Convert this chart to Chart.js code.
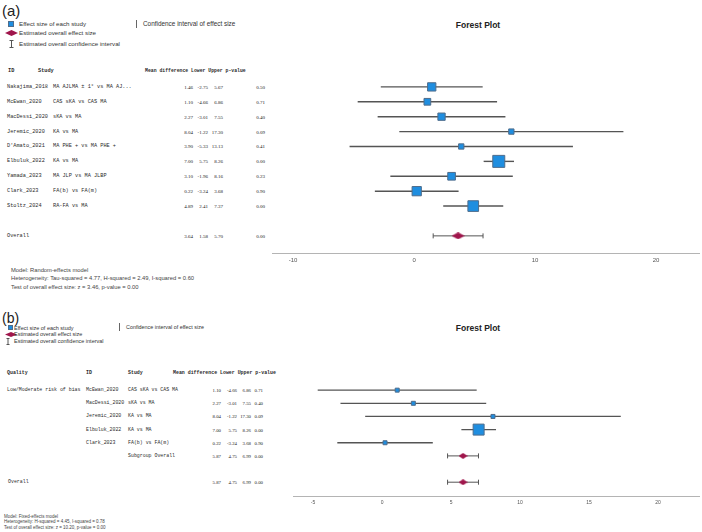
<!DOCTYPE html>
<html>
<head>
<meta charset="utf-8">
<title>Forest Plot</title>
<script src="https://cdn.jsdelivr.net/npm/chart.js@4.4.1/dist/chart.umd.min.js"></script>
<style>
  html, body { margin: 0; padding: 0; background: #fff; }
  #page { position: relative; width: 702px; height: 532px; overflow: hidden;
          font-family: "Liberation Sans", Arial, sans-serif; color: #333; }
  .t { position: absolute; white-space: pre; line-height: 1; transform-origin: 0 0; }
  .mono { font-family: "Liberation Mono", "DejaVu Sans Mono", monospace; color: #2a2a2a; }
  .num { font-family: "Liberation Serif", "Times New Roman", serif; color: #222; }
  .abs { position: absolute; }
  .sq { position: absolute; box-sizing: border-box; background: #1f8ee0; border: 1px solid #4f6d8c; }
  .vbar { position: absolute; width: 1px; background: #666; }
  .wrap { position: absolute; }
</style>
</head>
<body>
<div id="page">
  <div class="wrap" id="wrapA" style="left:272px;top:72px;width:428px;height:197px;"><canvas id="chartA"></canvas></div>
  <div class="wrap" id="wrapB" style="left:293px;top:377px;width:407px;height:133px;"><canvas id="chartB"></canvas></div>
</div>
<script>
  // ---- Data: panel (a), random-effects model ----
  const studiesA = ["Nakajima_2018", "McEwan_2020", "MacDessi_2020", "Jeremic_2020", "D'Amato_2021",
                    "Elbuluk_2022", "Yamada_2023", "Clark_2023", "Stoltz_2024"];
  const comparisonsA = ["MA AJLMA \u00b1 1\u00b0 vs MA AJ...", "CAS sKA vs CAS MA", "sKA vs MA", "KA vs MA",
                        "MA PHE + vs MA PHE +", "KA vs MA", "MA JLP vs MA JLBP", "FA(b) vs FA(m)", "RA-FA vs MA"];
  const meanA  = [1.46, 1.10, 2.27, 8.04, 3.90, 7.00, 3.10, 0.22, 4.89];
  const lowerA = [-2.75, -4.66, -3.01, -1.22, -5.33, 5.75, -1.96, -3.24, 2.41];
  const upperA = [5.67, 6.86, 7.55, 17.30, 13.13, 8.26, 8.16, 3.68, 7.37];
  const pA     = [0.50, 0.71, 0.40, 0.09, 0.41, 0.00, 0.23, 0.90, 0.00];
  const weightA = [11.0, 7.2, 8.5, 4.5, 4.5, 23.0, 9.4, 13.7, 18.2];
  const overallA = [3.64, 1.58, 5.70, 0.00]; // mean, lower, upper, p
  const xTicksA = [-10, 0, 10, 20];

  // ---- Data: panel (b), fixed-effects model, subgroup by quality ----
  const qualityB = "Low/Moderate risk of bias";
  const studiesB = ["McEwan_2020", "MacDessi_2020", "Jeremic_2020", "Elbuluk_2022", "Clark_2023"];
  const comparisonsB = ["CAS sKA vs CAS MA", "sKA vs MA", "KA vs MA", "KA vs MA", "FA(b) vs FA(m)"];
  const meanB  = [1.10, 2.27, 8.04, 7.00, 0.22];
  const lowerB = [-4.66, -3.01, -1.22, 5.75, -3.24];
  const upperB = [6.86, 7.55, 17.30, 8.26, 3.68];
  const pB     = [0.71, 0.40, 0.09, 0.00, 0.90];
  const weightB = [3.8, 4.5, 1.5, 79.7, 10.5];
  const subgroupB = [5.87, 4.75, 6.99, 0.00];
  const overallB = [5.87, 4.75, 6.99, 0.00];
  const xTicksB = [-5, 0, 5, 10, 15, 20];

  const BLUE = "#1f8ee0", BLUE_EDGE = "#4f6d8c", CRIMSON = "#a0164c", LINE = "#555";
  const page = document.getElementById("page");
  const K = 0.25; // tiny text is laid out 4x larger then scaled down, so glyph advances are not rounded

  // anchor: left-middle by default, "r" right-middle, "c" centre
  function put(text, x, y, size, opts) {
    opts = opts || {};
    const d = document.createElement("div");
    d.className = "t" + (opts.cls ? " " + opts.cls : "");
    d.style.left = x + "px";
    d.style.top = y + "px";
    d.style.fontSize = size / K + "px";
    const tx = opts.anchor === "r" ? "-100%" : opts.anchor === "c" ? "-50%" : "0";
    d.style.transform = `scale(${K}) translate(${tx}, -50%)`;
    if (opts.bold) d.style.fontWeight = "bold";
    if (opts.color) d.style.color = opts.color;
    d.textContent = text;
    page.appendChild(d);
    return d;
  }

  function box(cls, x, y, w, h) {
    const d = document.createElement("div");
    d.className = cls;
    Object.assign(d.style, { left: x + "px", top: y + "px", width: w ? w + "px" : "", height: h + "px" });
    page.appendChild(d);
  }

  function diamondCanvas(w, h) {
    const c = document.createElement("canvas");
    c.width = w; c.height = h;
    const g = c.getContext("2d");
    g.fillStyle = CRIMSON;
    g.beginPath();
    g.moveTo(0, h / 2); g.lineTo(w / 2, 0); g.lineTo(w, h / 2); g.lineTo(w / 2, h);
    g.closePath(); g.fill();
    return c;
  }

  function legendSvg(kind, x, y, w, h) {
    const ns = "http://www.w3.org/2000/svg";
    const s = document.createElementNS(ns, "svg");
    s.setAttribute("width", w); s.setAttribute("height", h);
    s.setAttribute("class", "abs");
    s.style.left = x + "px"; s.style.top = y + "px";
    if (kind === "diamond") {
      s.innerHTML = `<polygon points="0,${h / 2} ${w / 2},0 ${w},${h / 2} ${w / 2},${h}" fill="${CRIMSON}"/>`;
    } else {
      const m = w / 2;
      s.innerHTML = `<path d="M0.5 0.5H${w - 0.5}M${m} 0.5V${h - 0.5}M0.5 ${h - 0.5}H${w - 0.5}" stroke="#555" stroke-width="1" fill="none"/>`;
    }
    page.appendChild(s);
  }

  // ---- Build a forest plot chart with Chart.js ----
  function forest(canvasId, o) {
    const datasets = [];
    // study squares
    datasets.push({
      data: o.mean.map((m, i) => ({ x: m, y: i })),
      pointStyle: "rect",
      pointRadius: o.weight.map((w) => o.side(w) / Math.SQRT2),
      backgroundColor: BLUE, borderColor: BLUE_EDGE, borderWidth: 1,
      order: 0,
    });
    // pooled diamonds
    datasets.push({
      data: o.pooled.map((p) => ({ x: p.v[0], y: p.row })),
      pointStyle: diamondCanvas(o.dw, o.dh), pointRadius: 5,
      order: 0,
    });
    // caps on pooled CIs
    datasets.push({
      data: o.pooled.flatMap((p) => [{ x: p.v[1], y: p.row }, { x: p.v[2], y: p.row }]),
      pointStyle: "line", rotation: 90, pointRadius: o.cap,
      borderColor: LINE, borderWidth: 1,
      order: 1,
    });
    // CI lines
    o.lower.forEach((lo, i) => {
      datasets.push({
        data: [{ x: lo, y: i }, { x: o.upper[i], y: i }],
        showLine: true, borderColor: LINE, borderWidth: o.lw, pointRadius: 0, order: 2,
      });
    });
    o.pooled.forEach((p) => {
      datasets.push({
        data: [{ x: p.v[1], y: p.row }, { x: p.v[2], y: p.row }],
        showLine: true, borderColor: LINE, borderWidth: 1, pointRadius: 0, order: 2,
      });
    });

    return new Chart(document.getElementById(canvasId), {
      type: "scatter",
      data: { datasets },
      options: {
        responsive: true,
        maintainAspectRatio: false,
        animation: false,
        events: [],
        layout: { padding: 0, autoPadding: false },
        plugins: { legend: { display: false }, tooltip: { enabled: false } },
        scales: {
          x: {
            type: "linear", min: o.xmin, max: o.xmax,
            grid: { display: false, drawTicks: false },
            border: { display: true, color: "#b4b4b4", width: 1 },
            ticks: { font: { family: "Liberation Sans", size: o.tickSize }, color: "#555",
                     padding: 4, autoSkip: false, maxRotation: 0 },
            afterBuildTicks: (s) => { s.ticks = o.ticks.map((v) => ({ value: v })); },
            afterFit: (s) => { s.height = o.axisH; },
          },
          y: { type: "linear", reverse: true, min: -1, max: o.ymax, display: false },
        },
      },
    });
  }

  const chartA = forest("chartA", {
    mean: meanA, lower: lowerA, upper: upperA, weight: weightA,
    side: (w) => Math.sqrt(w * 6.26),
    pooled: [{ v: overallA, row: 10 }],
    dw: 13, dh: 7, cap: 2.5, lw: 1.4,
    xmin: -11.74, xmax: 23.63, ymax: 11.15, ticks: xTicksA, tickSize: 6, axisH: 16,
  });

  const chartB = forest("chartB", {
    mean: meanB, lower: lowerB, upper: upperB, weight: weightB,
    side: (w) => Math.max(4, 1.23 * Math.sqrt(w)),
    pooled: [{ v: subgroupB, row: 5 }, { v: overallB, row: 7 }],
    dw: 9, dh: 6, cap: 2.5, lw: 1.3,
    xmin: -6.45, xmax: 23.04, ymax: 8.05, ticks: xTicksB, tickSize: 5, axisH: 14,
  });

  const fmt = (v) => v.toFixed(2);
  function rowY(chart, wrapId, row) {
    return document.getElementById(wrapId).offsetTop + chart.scales.y.getPixelForValue(row);
  }
  function numbers(vals, y, cols, size) {
    vals.forEach((v, j) => put(fmt(v), cols[j], y, size, { cls: "num", anchor: "r" }));
  }

  // ---- Panel (a) text ----
  put("(a)", 2, 11, 15, { color: "#222" });
  box("sq", 8, 21, 6, 6);
  put("Effect size of each study", 19, 24, 6.2);
  box("vbar", 136, 20, 0, 8);
  put("Confidence interval of effect size", 143, 24, 6.4);
  legendSvg("diamond", 5, 30, 13, 6);
  put("Estimated overall effect size", 19, 33, 6.2);
  legendSvg("ci", 9, 40, 5, 8);
  put("Estimated overall confidence interval", 19, 44, 6.2);
  put("Forest Plot", 478, 25, 8.5, { anchor: "c", bold: true, color: "#222" });

  const mA = 5.25, nA = 5.0, colsA = [192.5, 207.5, 222.5, 265];
  put("ID", 8, 71, mA, { cls: "mono", bold: true });
  put("Study", 38, 71, mA, { cls: "mono", bold: true });
  put("Mean difference Lower Upper p-value", 145, 71, 4.8, { cls: "mono", bold: true });
  studiesA.forEach((s, i) => {
    const y = rowY(chartA, "wrapA", i);
    put(s, 7, y, mA, { cls: "mono" });
    put(comparisonsA[i], 53, y, mA, { cls: "mono" });
    numbers([meanA[i], lowerA[i], upperA[i], pA[i]], y, colsA, nA);
  });
  {
    const y = rowY(chartA, "wrapA", 10);
    put("Overall", 7, y, mA, { cls: "mono" });
    numbers(overallA, y, colsA, nA);
  }
  put("Model: Random-effects model", 11, 270, 5.8, { color: "#444" });
  put("Heterogeneity: Tau-squared = 4.77, H-squared = 2.49, I-squared = 0.60", 11, 278, 5.8, { color: "#444" });
  put("Test of overall effect size: z = 3.46, p-value = 0.00", 11, 287, 5.8, { color: "#444" });

  // ---- Panel (b) text ----
  put("(b)", 2, 318, 14, { color: "#222" });
  box("sq", 8, 325, 5, 5);
  put("Effect size of each study", 14, 327.5, 5.5);
  box("vbar", 119, 323, 0, 8);
  put("Confidence interval of effect size", 126, 327, 5.4);
  legendSvg("diamond", 5, 331.5, 12, 5);
  put("Estimated overall effect size", 14, 334, 5.5);
  legendSvg("ci", 6, 337.5, 4, 7);
  put("Estimated overall confidence interval", 14, 341, 5.5);
  put("Forest Plot", 478, 328, 8.5, { anchor: "c", bold: true, color: "#222" });

  const mB = 4.9, nB = 4.8, colsB = [221, 237, 251, 263];
  put("Quality", 7, 373, mB, { cls: "mono", bold: true });
  put("ID", 86, 373, mB, { cls: "mono", bold: true });
  put("Study", 128, 373, mB, { cls: "mono", bold: true });
  put("Mean difference Lower Upper p-value", 173, 373, mB, { cls: "mono", bold: true });
  studiesB.forEach((s, i) => {
    const y = rowY(chartB, "wrapB", i);
    if (i === 0) put(qualityB, 7, y, mB, { cls: "mono" });
    put(s, 86, y, mB, { cls: "mono" });
    put(comparisonsB[i], 128, y, mB, { cls: "mono" });
    numbers([meanB[i], lowerB[i], upperB[i], pB[i]], y, colsB, nB);
  });
  [["Subgroup Overall", 128, subgroupB, 5], ["Overall", 8, overallB, 7]].forEach(([label, x, v, row]) => {
    const y = rowY(chartB, "wrapB", row);
    put(label, x, y, mB, { cls: "mono" });
    numbers(v, y, colsB, nB);
  });
  put("Model: Fixed-effects model", 4, 515.5, 4.5, { color: "#444" });
  put("Heterogeneity: H-squared = 4.45, I-squared = 0.78", 4, 521, 4.5, { color: "#444" });
  put("Test of overall effect size: z = 10.20, p-value = 0.00", 4, 526.5, 4.5, { color: "#444" });
</script>
</body>
</html>
